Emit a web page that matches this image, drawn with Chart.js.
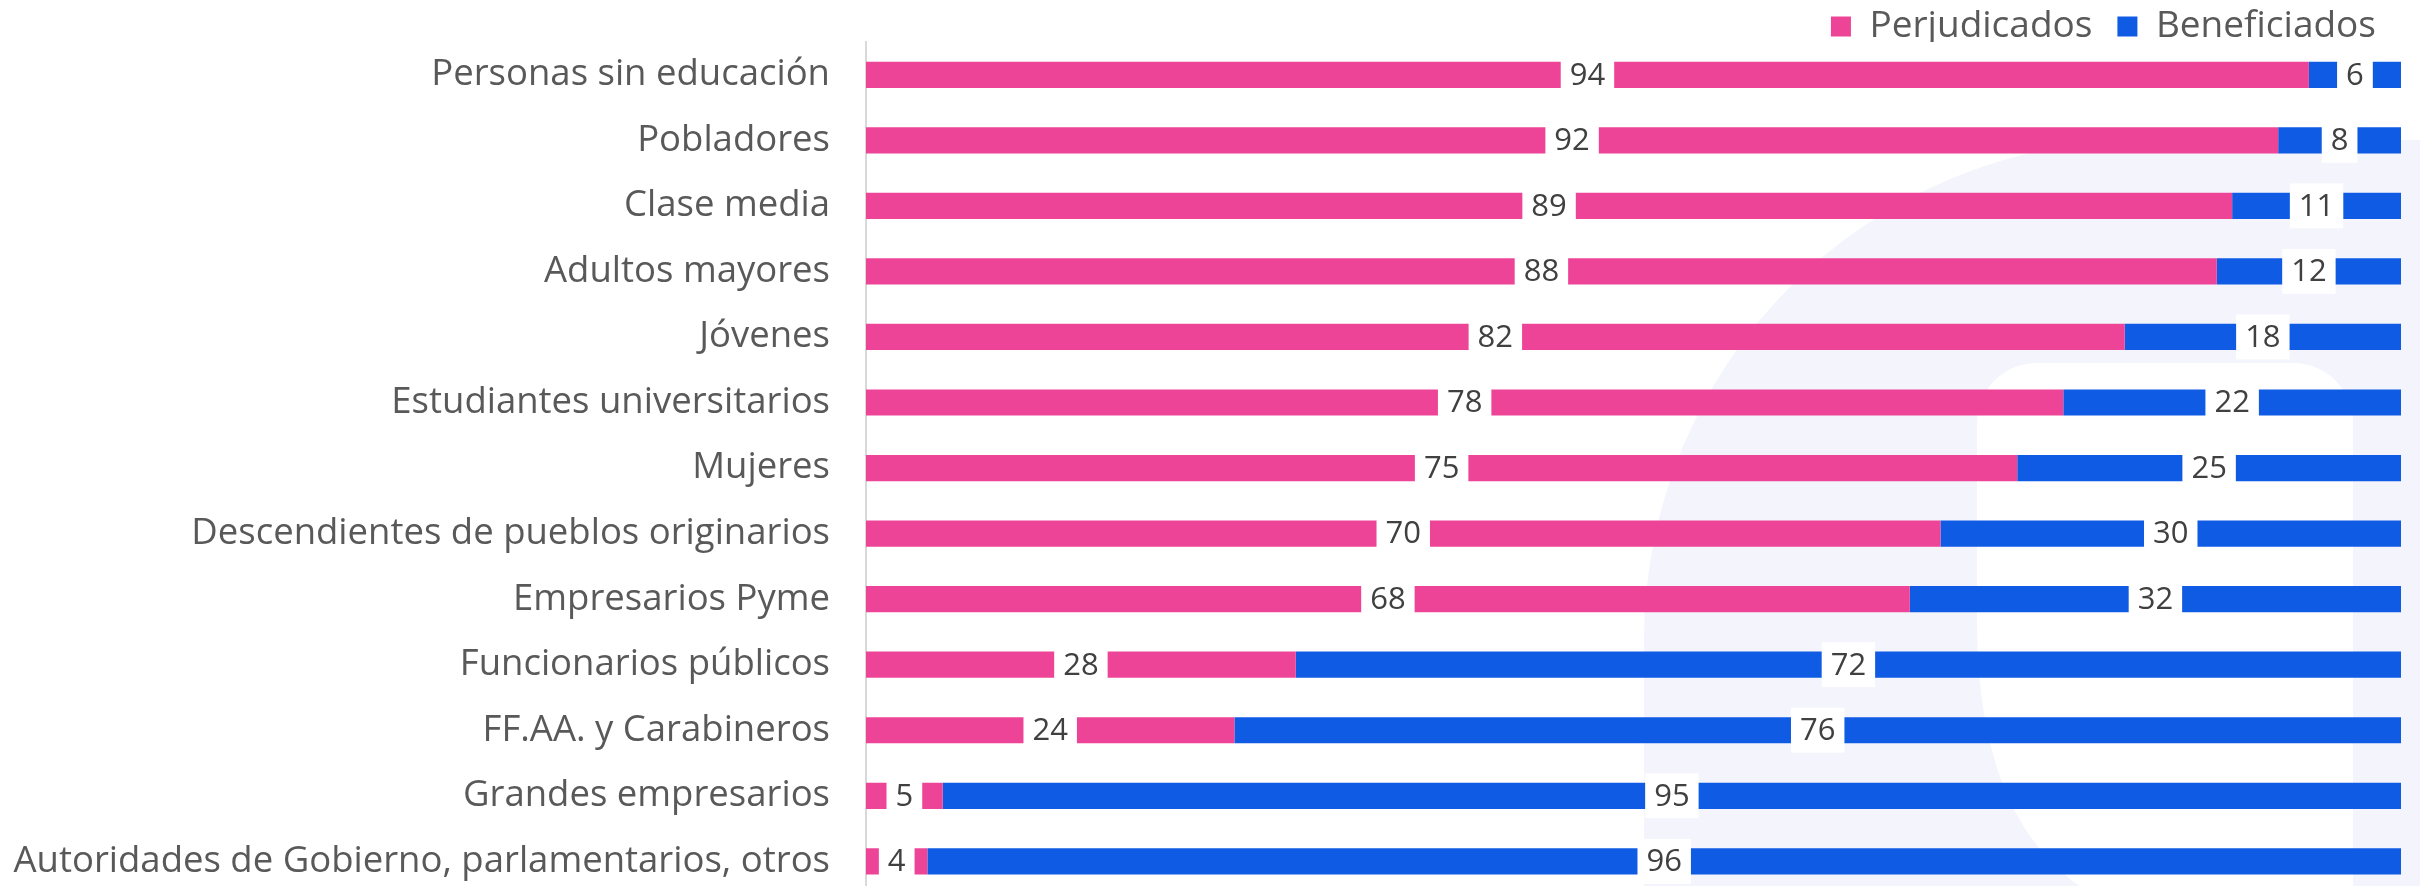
<!DOCTYPE html>
<html>
<head>
<meta charset="utf-8">
<script src="https://cdn.jsdelivr.net/npm/chart.js@4"></script>
<style>
  html, body { margin: 0; padding: 0; background: #fff; overflow: hidden; }
  /* un poco mas alto que la ventana: la ultima fila queda cortada como en el original */
  #wrap { width: 2420px; height: 916px; }
</style>
</head>
<body>
<div id="wrap"><canvas id="grupos"></canvas></div>
<script>
const categorias = [
  'Personas sin educación',
  'Pobladores',
  'Clase media',
  'Adultos mayores',
  'Jóvenes',
  'Estudiantes universitarios',
  'Mujeres',
  'Descendientes de pueblos originarios',
  'Empresarios Pyme',
  'Funcionarios públicos',
  'FF.AA. y Carabineros',
  'Grandes empresarios',
  'Autoridades de Gobierno, parlamentarios, otros'
];
const perjudicados = [94, 92, 89, 88, 82, 78, 75, 70, 68, 28, 24, 5, 4];
const beneficiados = [6, 8, 11, 12, 18, 22, 25, 30, 32, 72, 76, 95, 96];
const series = ['Perjudicados', 'Beneficiados'];
const colores = ['#ee4497', '#105be4'];

// logo de fondo, muy claro, detras de las barras
const fondo = {
  id: 'fondo',
  beforeDraw(chart) {
    const ctx = chart.ctx;
    ctx.save();
    ctx.fillStyle = '#f3f4fc';
    ctx.beginPath();
    ctx.roundRect(1644, 140, 1400, 1400, 500);
    ctx.moveTo(1977, 620);
    ctx.lineTo(1977, 423);
    ctx.arcTo(1977, 363, 2037, 363, 60);
    ctx.lineTo(2293, 363);
    ctx.arcTo(2353, 363, 2353, 423, 60);
    ctx.lineTo(2353, 920);
    ctx.lineTo(2160, 920);
    ctx.quadraticCurveTo(1977, 880, 1977, 620);
    ctx.closePath();
    ctx.fill('evenodd');
    ctx.restore();
  }
};

// valores al centro de cada tramo, sobre caja blanca
const etiquetas = {
  id: 'etiquetas',
  afterDatasetsDraw(chart) {
    const ctx = chart.ctx;
    ctx.save();
    ctx.font = '31px "Open Sans"';
    ctx.textAlign = 'center';
    ctx.textBaseline = 'middle';
    chart.data.datasets.forEach((ds, i) => {
      chart.getDatasetMeta(i).data.forEach((bar, j) => {
        const txt = String(ds.data[j]);
        const cx = (bar.x + bar.base) / 2;
        const w = ctx.measureText(txt).width + 18;
        const h = 45;
        ctx.fillStyle = '#fff';
        ctx.fillRect(cx - w / 2, bar.y - h / 2, w, h);
        ctx.fillStyle = '#404040';
        ctx.fillText(txt, cx, bar.y + 1);
      });
    });
    ctx.restore();
  }
};

new Chart(document.getElementById('grupos'), {
  type: 'bar',
  data: {
    labels: categorias,
    datasets: [
      { label: series[0], data: perjudicados, backgroundColor: colores[0] },
      { label: series[1], data: beneficiados, backgroundColor: colores[1] }
    ]
  },
  options: {
    indexAxis: 'y',
    responsive: true,
    maintainAspectRatio: false,
    animation: false,
    layout: { padding: { top: -17, right: 19, left: 0, bottom: 0 } },
    datasets: { bar: { barPercentage: 0.4, categoryPercentage: 1 } },
    scales: {
      x: { stacked: true, min: 0, max: 100, display: false },
      y: {
        stacked: true,
        grid: { display: false, drawTicks: true, tickLength: 36, tickColor: 'rgba(0,0,0,0)' },
        border: { display: true, color: '#d9d9d9', width: 2 },
        ticks: { color: '#595959', font: { family: 'Open Sans', size: 36.5 }, padding: 0 },
        afterFit(scale) { scale.width = 866; }
      }
    },
    plugins: {
      legend: {
        position: 'top',
        align: 'end',
        maxHeight: 59,
        labels: {
          boxWidth: 20,
          boxHeight: 20,
          padding: 25,
          color: '#595959',
          font: { family: 'Open Sans', size: 37 }
        }
      },
      tooltip: { enabled: false }
    }
  },
  plugins: [fondo, etiquetas]
});
</script>
</body>
</html>
